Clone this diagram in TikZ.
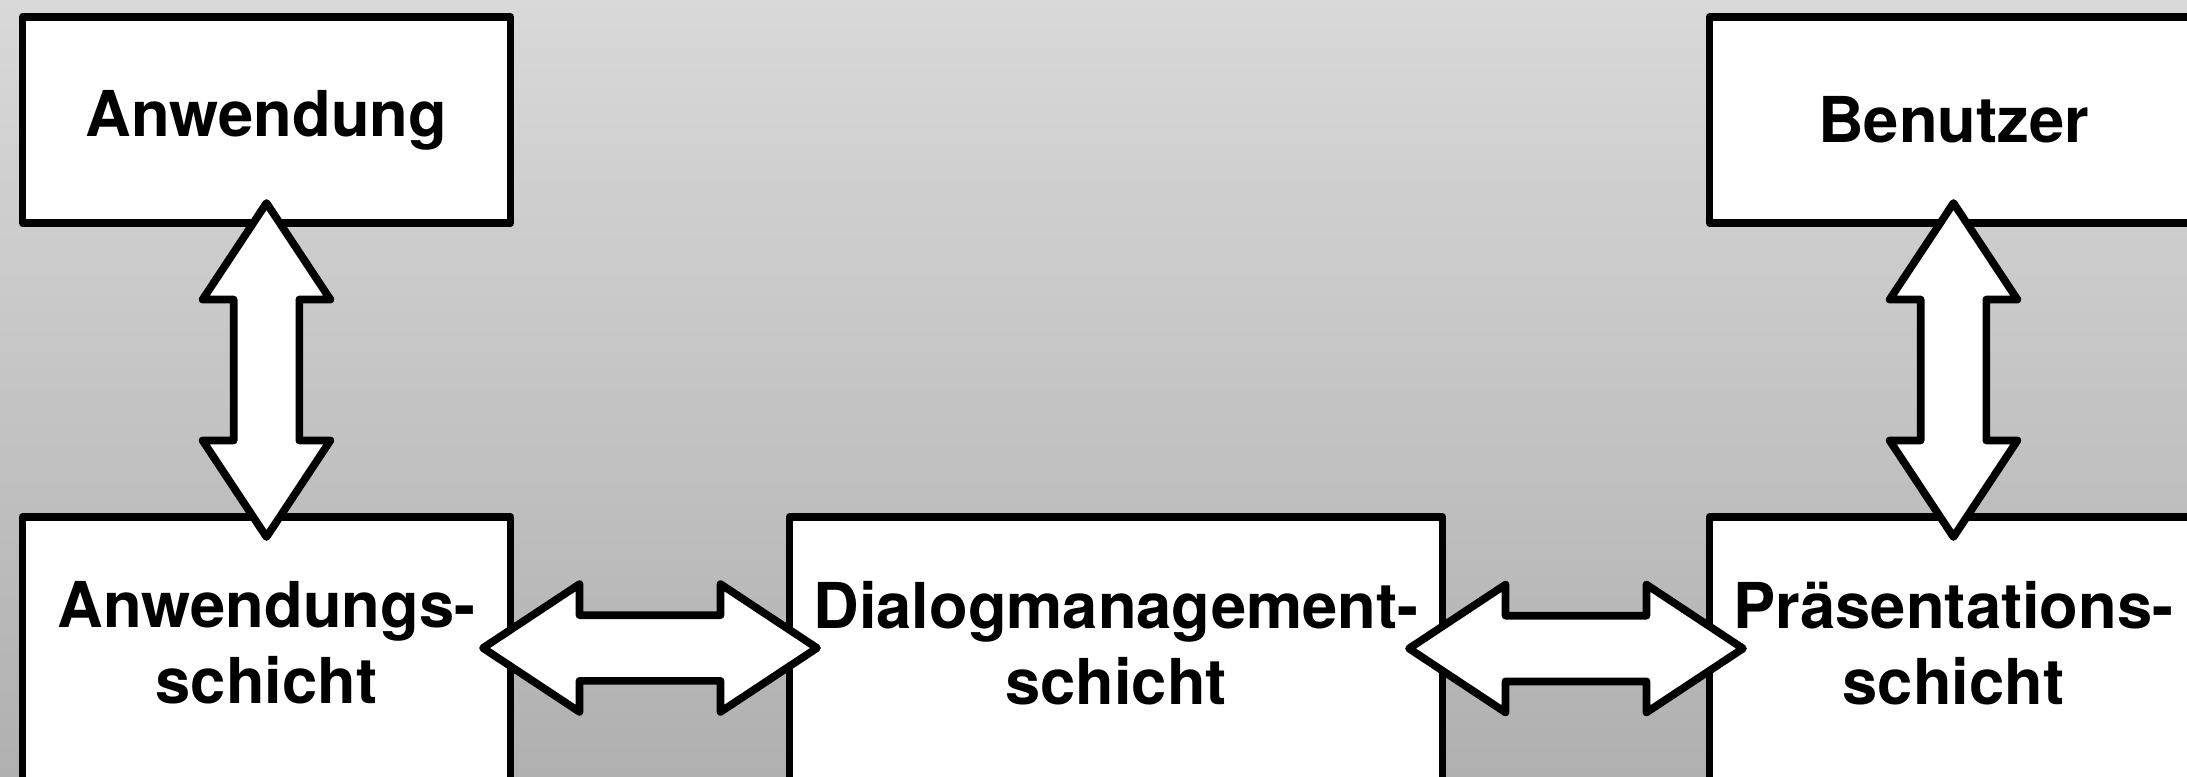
\documentclass[tikz,border=0pt]{standalone}
\usepackage{fontspec}
\setmainfont{TeX Gyre Heros}
\usetikzlibrary{positioning, calc, shapes.arrows}
\definecolor{bgTop}{RGB}{217,217,217}
\definecolor{bgBottom}{RGB}{176,176,176}
\tikzset{
	layer/.style    ={rectangle, draw=black, line width=2.2pt, line join=round, fill=white, outer sep=0pt, inner sep=0pt, align=center, font=\fontsize{18}{21.6}\selectfont\bfseries},
	toplayer/.style ={layer, minimum width=4.88cm, minimum height=2.06cm},
	botlayer/.style ={layer, minimum height=3.2cm},
	lbl/.style      ={anchor=north, inner sep=0pt, align=center, yshift=-0.64cm, font=\fontsize{18}{21.6}\selectfont\bfseries},
	% block arrows between the layers
	dblarrow/.style ={double arrow, draw=black, fill=white, line width=2.2pt, line join=round, inner xsep=0pt, inner ysep=0.29cm, minimum height=3.34cm, double arrow head extend=0.31cm, double arrow tip angle=67},
}
\begin{document}
\begin{tikzpicture}
	\clip (0,0) rectangle (21.87,-7.76);
	\shade[top color=bgTop, bottom color=bgBottom] (0,0) rectangle (21.87,-7.76);
	\node[toplayer] (anw) at (2.665,-1.20) {Anwendung};
	\node[botlayer, minimum width=4.88cm, below=2.94cm of anw, label={[lbl, name=awsText]north:Anwendungs-\\schicht}] (aws) {};
	\node[botlayer, minimum width=6.53cm, right=2.79cm of aws, label={[lbl, name=dmsText]north:Dialogmanagement-\\schicht}] (dms) {};
	\node[botlayer, minimum width=4.88cm, right=2.67cm of dms, label={[lbl, name=prsText]north:Präsentations-\\schicht}] (prs) {};
	\node[toplayer, above=2.94cm of prs] (ben) {Benutzer};
	\coordinate (gapL) at ($(aws.east)!0.5!(dms.west)$);
	\coordinate (gapR) at ($(dms.east)!0.5!(prs.west)$);
	\node[dblarrow, rotate=90] (anwArrow) at ($(anw.south)!0.5!(aws.north)$) {};
	\node[dblarrow, rotate=90] (benArrow) at ($(ben.south)!0.5!(prs.north)$) {};
	\node[dblarrow, yshift=-0.05cm] (leftArrow) at (gapL |- awsText) {};
	\node[dblarrow, yshift=-0.05cm] (rightArrow) at (gapR |- prsText) {};
\end{tikzpicture}
\end{document}
